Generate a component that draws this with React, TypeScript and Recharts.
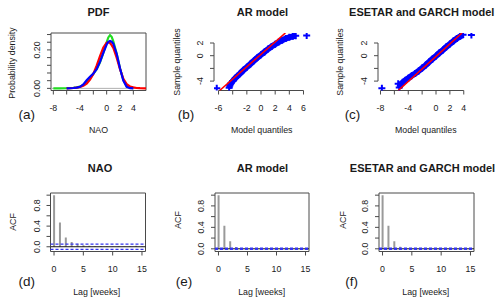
import React from 'react';
import {
  ScatterChart,
  Scatter,
  ComposedChart,
  Bar,
  XAxis,
  YAxis,
  ReferenceLine,
  ReferenceArea,
} from 'recharts';

const FONT = '"Liberation Sans", Arial, Helvetica, sans-serif';
const TXT = '#1a1a1a';
const AX = '#4a4a4a';

// ---------- (a) PDF ----------
const pdfGrid = [-8, -7, -6, -5, -4.5, -4, -3.5, -3, -2.5, -2, -1.5, -1, -0.5, 0, 0.25, 0.5, 0.75, 1, 1.5, 2, 2.5, 3, 3.5, 4, 4.5, 5, 5.9];
const pdfObserved = [0, 0, 0.001, 0.003, 0.005, 0.009, 0.018, 0.032, 0.052, 0.075, 0.1, 0.135, 0.185, 0.24, 0.265, 0.277, 0.268, 0.245, 0.18, 0.105, 0.045, 0.012, 0.003, 0.001, null, null, null];
const pdfAR = [null, null, 0, 0.002, 0.004, 0.008, 0.014, 0.025, 0.045, 0.075, 0.118, 0.168, 0.212, 0.238, 0.24, 0.236, 0.225, 0.21, 0.16, 0.1, 0.05, 0.022, 0.01, 0.005, 0.002, 0.001, 0];
const pdfESETAR = [null, null, 0, 0.002, 0.004, 0.008, 0.02, 0.042, 0.06, 0.077, 0.1, 0.138, 0.185, 0.228, 0.242, 0.247, 0.243, 0.232, 0.18, 0.105, 0.04, 0.008, 0.001, 0, null, null, null];
const pdfXTicks = [-8, -6, -4, -2, 0, 2, 4];
const pdfXLabels = [-8, -4, 0, 2, 4];
const pdfYTicks = [0, 0.04, 0.08, 0.12, 0.16, 0.2, 0.24, 0.28];
const pdfYLabels = [0, 0.2];

// ---------- (b) AR model QQ ----------
const arModelQ = [-4.5, -4.4, -4.25, -4.0, -3.6, -3.0, -2.5, -2.0, -1.5, -1.0, -0.5, 0.0, 0.5, 1.0, 1.5, 2.0, 2.5, 3.0, 3.5, 4.0, 4.5, 4.9];
const arSampleQ = [-5.05, -4.7, -4.35, -4.0, -3.5, -2.85, -2.3, -1.8, -1.3, -0.8, -0.3, 0.15, 0.6, 1.05, 1.45, 1.8, 2.15, 2.45, 2.7, 2.9, 3.05, 3.15];
const arOutModelQ = [-6.25, 6.45];
const arOutSampleQ = [-5.13, 3.2];
const arLineX = [-5.85, 3.45];
const arLineY = [-5.48, 3.575];
const bXTicks = [-6, -4, -2, 0, 2, 4, 6];
const bXLabels = [-6, -2, 0, 2, 4, 6];

// ---------- (c) ESETAR and GARCH QQ ----------
const esModelQ = [-5.3, -5.1, -4.8, -4.4, -4.0, -3.5, -3.0, -2.5, -2.0, -1.5, -1.0, -0.5, 0.0, 0.5, 1.0, 1.5, 2.0, 2.5, 3.0, 3.5, 3.9];
const esSampleQ = [-5.0, -4.6, -4.2, -3.85, -3.55, -3.15, -2.8, -2.4, -1.95, -1.5, -1.0, -0.5, -0.05, 0.45, 0.9, 1.4, 1.85, 2.3, 2.7, 3.05, 3.3];
const esOutModelQ = [-7.8, -5.45, 5.1];
const esOutSampleQ = [-5.13, -4.4, 3.25];
const esLineX = [-5.45, 3.75];
const esLineY = [-5.48, 3.575];
const cXTicks = [-8, -6, -4, -2, 0, 2, 4];
const cXLabels = [-8, -4, 0, 2, 4];

const qqYTicks = [-4, -2, 0, 2];
const qqYLabels = [-4, 0, 2];

// ---------- (d,e,f) ACF ----------
const lags = [0, 1, 2, 3, 4, 5, 6, 7, 8, 9, 10, 11, 12, 13, 14, 15];
const acfNAO = [1, 0.47, 0.18, 0.09, 0.06, 0.03, 0.02, 0.01, 0.015, 0.01, 0.005, 0.01, 0.005, 0.01, 0.02, 0.01];
const acfAR = [1, 0.43, 0.14, 0.035, 0.01, 0.003, 0.002, 0.001, 0, 0, 0, 0, 0, 0, 0, 0];
const acfES = [1, 0.43, 0.14, 0.04, 0.012, 0.004, 0.002, 0.001, 0, 0, 0, 0, 0, 0, 0, 0];
const ciNAO = 0.05;
const ciAR = 0.01;
const ciES = 0.01;
const acfXTicks = [0, 5, 10, 15];
const acfYTicks = [0, 0.2, 0.4, 0.6, 0.8, 1.0];
const acfYLabels = [0, 0.4, 0.8];

type Geo = { left: number; top: number; width: number; height: number; pl: number; pr: number; pt: number; pb: number };

const GEO_A: Geo = { left: 0, top: 0, width: 166, height: 150, pl: 51, pr: 146, pt: 33, pb: 90.5 };
const GEO_B: Geo = { left: 166, top: 0, width: 167, height: 150, pl: 214, pr: 311, pt: 33, pb: 90.5 };
const GEO_C: Geo = { left: 333, top: 0, width: 167, height: 150, pl: 378, pr: 475, pt: 33, pb: 90.5 };
const GEO_D: Geo = { left: 0, top: 150, width: 166, height: 151, pl: 50.5, pr: 145.5, pt: 193, pb: 251.5 };
const GEO_E: Geo = { left: 166, top: 150, width: 167, height: 151, pl: 215, pr: 309, pt: 193, pb: 251.5 };
const GEO_F: Geo = { left: 333, top: 150, width: 167, height: 151, pl: 379, pr: 474, pt: 193, pb: 251.5 };

const X_TICK_DY = 11;
const Y_TICK_DX = -7.5;
const TICK_FS = 8.8;

const has = (arr: number[], v: number) => arr.some((s) => Math.abs(s - v) < 1e-9);

const makeXTick = (show: number[], fmt: (v: number) => string) => (props: any) => {
  const { x, y, payload } = props;
  if (!has(show, payload.value)) return <g />;
  return (
    <text x={x} y={y + X_TICK_DY} textAnchor="middle" dominantBaseline="central" fontSize={TICK_FS} fontFamily={FONT} fill={TXT}>
      {fmt(payload.value)}
    </text>
  );
};

const makeYTick = (show: number[], fmt: (v: number) => string) => (props: any) => {
  const { x, y, payload } = props;
  if (!has(show, payload.value)) return <g />;
  const cx = x + Y_TICK_DX;
  return (
    <text x={cx} y={y} transform={`rotate(-90 ${cx} ${y})`} textAnchor="middle" dominantBaseline="central" fontSize={TICK_FS} fontFamily={FONT} fill={TXT}>
      {fmt(payload.value)}
    </text>
  );
};

const intFmt = (v: number) => String(Math.round(v));

const wrapStyle = (g: Geo): React.CSSProperties => ({ position: 'absolute', left: g.left, top: g.top, width: g.width, height: g.height });
const chartMargin = (g: Geo) => ({ top: g.pt - g.top, right: g.left + g.width - g.pr, bottom: 0, left: 0 });

const Cross = (color: string) => (props: any) => {
  const { cx, cy } = props;
  if (cx == null || cy == null) return <g />;
  return <path d={`M${cx - 3.5},${cy}h7M${cx},${cy - 3.5}v7`} stroke={color} strokeWidth={2} fill="none" />;
};
const NoShape = () => <g />;

const toXY = (xs: number[], ys: (number | null)[]) =>
  xs.map((x, i) => ({ x, y: ys[i] })).filter((d) => d.y !== null && d.y !== undefined) as { x: number; y: number }[];

// ---------- Panels ----------
function PdfPanel() {
  const g = GEO_A;
  const xd: [number, number] = [-8.35, 5.9];
  const yd: [number, number] = [-0.0111, 0.288];
  return (
    <div style={wrapStyle(g)}>
      <ScatterChart width={g.width} height={g.height} margin={chartMargin(g)}>
        <XAxis type="number" dataKey="x" domain={xd} allowDataOverflow ticks={pdfXTicks} interval={0} height={g.top + g.height - g.pb}
          axisLine={false} tickLine={{ stroke: AX }} tickSize={4} tick={makeXTick(pdfXLabels, intFmt)} />
        <YAxis type="number" dataKey="y" domain={yd} allowDataOverflow ticks={pdfYTicks} interval={0} width={g.pl - g.left}
          axisLine={false} tickLine={{ stroke: AX }} tickSize={4} tick={makeYTick(pdfYLabels, (v) => v.toFixed(2))} />
        <ReferenceLine y={0} stroke="#b0b0b0" strokeWidth={1} />
        <Scatter data={toXY(pdfGrid, pdfObserved)} line={{ stroke: '#22dd22', strokeWidth: 2.2 }} shape={NoShape} isAnimationActive={false} />
        <Scatter data={toXY(pdfGrid, pdfAR)} line={{ stroke: '#ff0000', strokeWidth: 2.2 }} shape={NoShape} isAnimationActive={false} />
        <Scatter data={toXY(pdfGrid, pdfESETAR)} line={{ stroke: '#0000ff', strokeWidth: 2.2 }} shape={NoShape} isAnimationActive={false} />
        <ReferenceArea x1={xd[0]} x2={xd[1]} y1={yd[0]} y2={yd[1]} fill="none" fillOpacity={0} stroke={AX} strokeWidth={1} />
      </ScatterChart>
    </div>
  );
}

function QQPanel(props: { g: Geo; xd: [number, number]; xTicks: number[]; xLabels: number[]; mx: number[]; sy: number[]; ox: number[]; oy: number[]; lx: number[]; ly: number[] }) {
  const { g, xd, xTicks, xLabels } = props;
  const yd: [number, number] = [-5.48, 3.575];
  return (
    <div style={wrapStyle(g)}>
      <ScatterChart width={g.width} height={g.height} margin={chartMargin(g)}>
        <XAxis type="number" dataKey="x" domain={xd} allowDataOverflow ticks={xTicks} interval={0} height={g.top + g.height - g.pb}
          axisLine={false} tickLine={{ stroke: AX }} tickSize={4} tick={makeXTick(xLabels, intFmt)} />
        <YAxis type="number" dataKey="y" domain={yd} allowDataOverflow ticks={qqYTicks} interval={0} width={g.pl - g.left}
          axisLine={false} tickLine={{ stroke: AX }} tickSize={4} tick={makeYTick(qqYLabels, intFmt)} />
        <ReferenceLine segment={[{ x: xTicks[0], y: yd[0] }, { x: xTicks[xTicks.length - 1], y: yd[0] }]} stroke={AX} ifOverflow="visible" />
        <ReferenceLine segment={[{ x: xd[0], y: qqYTicks[0] }, { x: xd[0], y: qqYTicks[qqYTicks.length - 1] }]} stroke={AX} ifOverflow="visible" />
        <Scatter data={toXY(props.mx, props.sy)} line={{ stroke: '#0000ff', strokeWidth: 6 }} shape={Cross('#0000ff')} isAnimationActive={false} />
        <Scatter data={toXY(props.ox, props.oy)} shape={Cross('#0000ff')} isAnimationActive={false} />
        <Scatter data={toXY(props.lx, props.ly)} line={{ stroke: '#ff0000', strokeWidth: 1.6 }} shape={NoShape} isAnimationActive={false} />
      </ScatterChart>
    </div>
  );
}

function AcfPanel(props: { g: Geo; values: number[]; ci: number; yd: [number, number]; zeroColor: string }) {
  const { g, values, ci, yd } = props;
  const xd: [number, number] = [-0.6, 15.6];
  const data = lags.map((lag, i) => ({ lag, acf: values[i] }));
  return (
    <div style={wrapStyle(g)}>
      <ComposedChart width={g.width} height={g.height} margin={chartMargin(g)} data={data}>
        <XAxis type="number" dataKey="lag" domain={xd} allowDataOverflow ticks={acfXTicks} interval={0} height={g.top + g.height - g.pb}
          axisLine={false} tickLine={{ stroke: AX }} tickSize={4} tick={makeXTick(acfXTicks, intFmt)} />
        <YAxis type="number" domain={yd} allowDataOverflow ticks={acfYTicks} interval={0} width={g.pl - g.left}
          axisLine={false} tickLine={{ stroke: AX }} tickSize={4} tick={makeYTick(acfYLabels, (v) => v.toFixed(1))} />
        <Bar dataKey="acf" barSize={2} fill="#9a9a9a" isAnimationActive={false} />
        <ReferenceLine y={0} stroke={props.zeroColor} strokeWidth={1} />
        <ReferenceLine y={ci} stroke="#3535f0" strokeWidth={1.3} strokeDasharray="3 2" />
        <ReferenceLine y={-ci} stroke="#3535f0" strokeWidth={1.3} strokeDasharray="3 2" />
        <ReferenceArea x1={xd[0]} x2={xd[1]} y1={yd[0]} y2={yd[1]} fill="none" fillOpacity={0} stroke={AX} strokeWidth={1} />
      </ComposedChart>
    </div>
  );
}

function Txt(props: { x: number; y: number; size: number; bold?: boolean; rot?: boolean; children: React.ReactNode }) {
  return (
    <div
      style={{
        position: 'absolute',
        left: props.x,
        top: props.y,
        transform: `translate(-50%, -50%)${props.rot ? ' rotate(-90deg)' : ''}`,
        fontFamily: FONT,
        fontSize: props.size,
        fontWeight: props.bold ? 700 : 400,
        color: TXT,
        whiteSpace: 'nowrap',
        lineHeight: 1,
      }}
    >
      {props.children}
    </div>
  );
}

const TITLE_FS = 11;
const LAB_FS = 8.8;
const TAG_FS = 13.5;

export default function App() {
  return (
    <div style={{ position: 'absolute', left: 0, top: 0, width: 500, height: 301, background: '#fff', overflow: 'hidden' }}>
      <PdfPanel />
      <QQPanel g={GEO_B} xd={[-6.64, 7.06]} xTicks={bXTicks} xLabels={bXLabels} mx={arModelQ} sy={arSampleQ} ox={arOutModelQ} oy={arOutSampleQ} lx={arLineX} ly={arLineY} />
      <QQPanel g={GEO_C} xd={[-8.36, 5.62]} xTicks={cXTicks} xLabels={cXLabels} mx={esModelQ} sy={esSampleQ} ox={esOutModelQ} oy={esOutSampleQ} lx={esLineX} ly={esLineY} />
      <AcfPanel g={GEO_D} values={acfNAO} ci={ciNAO} yd={[-0.092, 1.042]} zeroColor="#111" />
      <AcfPanel g={GEO_E} values={acfAR} ci={ciAR} yd={[-0.0504, 1.0404]} zeroColor="#111" />
      <AcfPanel g={GEO_F} values={acfES} ci={ciES} yd={[-0.0504, 1.0404]} zeroColor="#111" />

      <Txt x={98.5} y={12} size={TITLE_FS} bold>PDF</Txt>
      <Txt x={262.5} y={12} size={TITLE_FS} bold>AR model</Txt>
      <Txt x={421.7} y={12} size={TITLE_FS} bold>ESETAR and GARCH model</Txt>
      <Txt x={100} y={168} size={TITLE_FS} bold>NAO</Txt>
      <Txt x={262.5} y={168} size={TITLE_FS} bold>AR model</Txt>
      <Txt x={422.5} y={168} size={TITLE_FS} bold>ESETAR and GARCH model</Txt>

      <Txt x={98.5} y={130} size={LAB_FS}>NAO</Txt>
      <Txt x={261.7} y={130} size={LAB_FS}>Model quantiles</Txt>
      <Txt x={425.8} y={130} size={LAB_FS}>Model quantiles</Txt>
      <Txt x={96.7} y={291.7} size={LAB_FS}>Lag [weeks]</Txt>
      <Txt x={261.7} y={291.7} size={LAB_FS}>Lag [weeks]</Txt>
      <Txt x={425.8} y={291.7} size={LAB_FS}>Lag [weeks]</Txt>

      <Txt x={11.7} y={63.3} size={LAB_FS} rot>Probability density</Txt>
      <Txt x={176.7} y={61.7} size={LAB_FS} rot>Sample quantiles</Txt>
      <Txt x={340} y={61.7} size={LAB_FS} rot>Sample quantiles</Txt>
      <Txt x={12.7} y={221.7} size={LAB_FS} rot>ACF</Txt>
      <Txt x={177.7} y={220} size={LAB_FS} rot>ACF</Txt>
      <Txt x={342.7} y={220} size={LAB_FS} rot>ACF</Txt>

      <Txt x={26.7} y={115} size={TAG_FS}>(a)</Txt>
      <Txt x={186} y={115} size={TAG_FS}>(b)</Txt>
      <Txt x={352.5} y={115} size={TAG_FS}>(c)</Txt>
      <Txt x={26.7} y={281.7} size={TAG_FS}>(d)</Txt>
      <Txt x={184} y={281.7} size={TAG_FS}>(e)</Txt>
      <Txt x={351.7} y={281.7} size={TAG_FS}>(f)</Txt>
    </div>
  );
}
